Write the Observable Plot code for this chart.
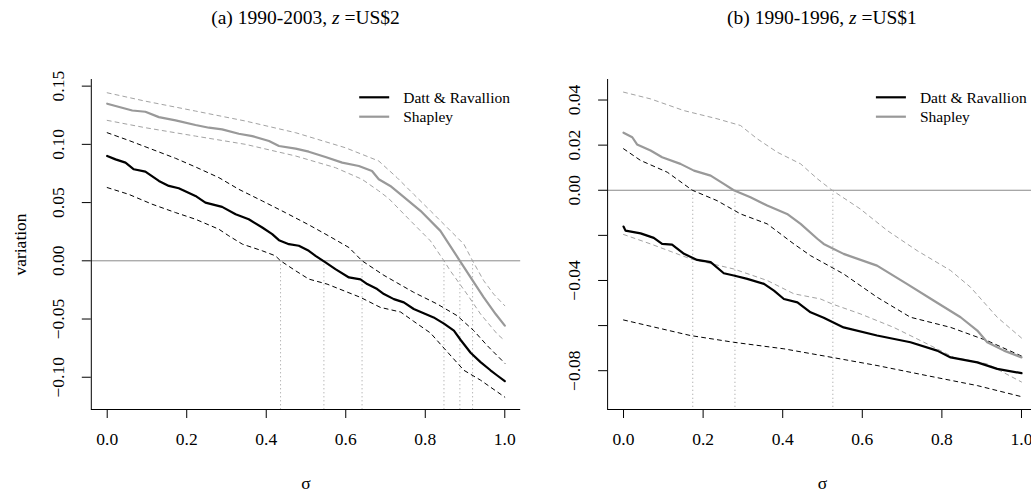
<!DOCTYPE html>
<html><head><meta charset="utf-8">
<script src="https://cdn.jsdelivr.net/npm/d3@7"></script>
<script src="https://cdn.jsdelivr.net/npm/@observablehq/plot@0.6"></script>
<style>
html,body{margin:0;padding:0;background:#fff;overflow:hidden;}
#wrap{position:relative;width:1031px;height:494px;overflow:hidden;font-family:'Liberation Serif',serif;color:#000;}
.panel{position:absolute;top:0;}
.title{position:absolute;top:6px;font-size:19.5px;white-space:nowrap;transform:translateX(-50%);line-height:24px;}
</style></head>
<body><div id="wrap">
<div class="title" style="left:305.5px">(a) 1990-2003, <i>z</i> =US$2</div>
<div class="title" style="left:822px">(b) 1990-1996, <i>z</i> =US$1</div>
</div>
<script>
// ---------- data: [sigma, variation] ----------
const xTicks = [0, 0.2, 0.4, 0.6, 0.8, 1.0];
const seriesNames = ["Datt & Ravallion", "Shapley"];

// Panel (a) 1990-2003, z = US$2
const aTicks = [0.15, 0.10, 0.05, 0.00, -0.05, -0.10];
const aLabels = [0.15, 0.10, 0.05, 0.00, -0.05, -0.10];
const aDR = [[0,0.090],[0.021,0.0871],[0.046,0.0843],[0.067,0.0786],[0.096,0.0766],[0.130,0.0686],[0.155,0.0643],[0.180,0.0623],[0.222,0.0557],[0.247,0.050],[0.289,0.0463],[0.323,0.040],[0.356,0.0357],[0.390,0.0286],[0.415,0.0229],[0.432,0.0177],[0.457,0.0143],[0.482,0.0129],[0.507,0.0086],[0.524,0.0043],[0.549,-0.0014],[0.574,-0.0071],[0.608,-0.0143],[0.637,-0.0160],[0.654,-0.0200],[0.679,-0.0243],[0.696,-0.0286],[0.721,-0.0329],[0.746,-0.0357],[0.771,-0.0414],[0.796,-0.0451],[0.821,-0.0486],[0.847,-0.0540],[0.872,-0.0600],[0.889,-0.0680],[0.914,-0.0790],[0.939,-0.0870],[0.964,-0.0940],[0.981,-0.0985],[1.0,-0.1034]];
const aDRhi = [[0,0.110],[0.054,0.1034],[0.113,0.0957],[0.172,0.088],[0.222,0.0806],[0.281,0.0714],[0.331,0.0614],[0.390,0.0514],[0.448,0.0414],[0.507,0.0309],[0.557,0.0214],[0.608,0.0114],[0.641,0],[0.696,-0.0125],[0.771,-0.0271],[0.830,-0.0371],[0.880,-0.0471],[0.922,-0.060],[0.956,-0.0729],[1.0,-0.088]];
const aDRlo = [[0,0.0629],[0.054,0.0571],[0.113,0.0486],[0.172,0.0414],[0.222,0.0357],[0.281,0.0271],[0.306,0.0214],[0.340,0.0143],[0.390,0.0086],[0.423,0.0043],[0.436,0],[0.474,-0.0086],[0.507,-0.0157],[0.553,-0.0200],[0.637,-0.0314],[0.687,-0.040],[0.738,-0.0440],[0.771,-0.0520],[0.813,-0.0620],[0.847,-0.0750],[0.897,-0.0940],[0.939,-0.1025],[1.0,-0.1171]];
const aSH = [[0,0.1349],[0.063,0.1291],[0.096,0.128],[0.130,0.1234],[0.172,0.1206],[0.222,0.1166],[0.256,0.1143],[0.289,0.1129],[0.331,0.1091],[0.365,0.1071],[0.407,0.1029],[0.432,0.0986],[0.474,0.0963],[0.507,0.0937],[0.549,0.0891],[0.591,0.0843],[0.633,0.0814],[0.666,0.0771],[0.683,0.070],[0.712,0.0643],[0.738,0.0571],[0.788,0.0429],[0.838,0.0257],[0.887,0],[0.914,-0.0143],[0.947,-0.0314],[0.977,-0.0457],[1.0,-0.0557]];
const aSHhi = [[0,0.1443],[0.096,0.1371],[0.222,0.1286],[0.348,0.120],[0.474,0.110],[0.599,0.0971],[0.683,0.0857],[0.729,0.0714],[0.771,0.0571],[0.813,0.0429],[0.855,0.0286],[0.897,0.0143],[0.919,0],[0.947,-0.0171],[0.972,-0.0286],[1.0,-0.0386]];
const aSHlo = [[0,0.1206],[0.096,0.1143],[0.222,0.1071],[0.348,0.100],[0.474,0.090],[0.574,0.080],[0.641,0.070],[0.683,0.060],[0.708,0.0535],[0.763,0.0343],[0.813,0.0171],[0.847,0],[0.863,-0.0086],[0.905,-0.0286],[0.939,-0.0457],[0.981,-0.0629],[1.0,-0.0686]];
const aCross = [0.436, 0.545, 0.641, 0.847, 0.887, 0.919];

// Panel (b) 1990-1996, z = US$1
const bTicks = [0.04, 0.02, 0.00, -0.02, -0.04, -0.06, -0.08];
const bLabels = [0.04, 0.02, 0.00, -0.04, -0.08];
const bDR = [[0,-0.0161],[0.005,-0.0179],[0.043,-0.0191],[0.076,-0.0211],[0.097,-0.0238],[0.122,-0.0241],[0.152,-0.0282],[0.185,-0.0309],[0.219,-0.0319],[0.252,-0.0368],[0.277,-0.0378],[0.311,-0.0393],[0.353,-0.0415],[0.378,-0.0445],[0.403,-0.0482],[0.437,-0.0497],[0.470,-0.0541],[0.503,-0.0565],[0.553,-0.0608],[0.637,-0.0644],[0.721,-0.0674],[0.788,-0.0711],[0.822,-0.0741],[0.889,-0.0763],[0.939,-0.0792],[1.0,-0.0811]];
const bDRhi = [[0,0.0184],[0.043,0.0132],[0.110,0.0080],[0.173,0],[0.235,-0.0046],[0.294,-0.0105],[0.361,-0.0149],[0.428,-0.0238],[0.470,-0.029],[0.553,-0.0371],[0.637,-0.0474],[0.721,-0.0563],[0.822,-0.0608],[0.914,-0.0667],[1.0,-0.0735]];
const bDRlo = [[0,-0.0575],[0.168,-0.0644],[0.277,-0.0674],[0.403,-0.0703],[0.524,-0.0741],[0.637,-0.0777],[0.763,-0.0822],[0.889,-0.0866],[1.0,-0.0915]];
const bSH = [[0,0.0255],[0.022,0.0235],[0.034,0.0203],[0.068,0.0176],[0.097,0.0146],[0.143,0.0117],[0.177,0.0087],[0.219,0.0065],[0.252,0.0028],[0.277,0],[0.319,-0.0031],[0.361,-0.0068],[0.411,-0.0105],[0.445,-0.0149],[0.487,-0.0215],[0.503,-0.0238],[0.553,-0.0282],[0.637,-0.0334],[0.712,-0.0415],[0.779,-0.0489],[0.847,-0.0563],[0.889,-0.0622],[0.914,-0.0674],[0.956,-0.0711],[1.0,-0.0741]];
const bSHhi = [[0,0.0435],[0.068,0.0405],[0.152,0.0353],[0.235,0.0317],[0.294,0.0287],[0.336,0.0228],[0.386,0.0169],[0.445,0.0117],[0.487,0.0051],[0.524,0],[0.595,-0.0083],[0.663,-0.0179],[0.738,-0.0268],[0.822,-0.0356],[0.872,-0.0430],[0.939,-0.0563],[1.0,-0.0655]];
const bSHlo = [[0,-0.0196],[0.068,-0.0238],[0.168,-0.0304],[0.277,-0.0349],[0.361,-0.040],[0.428,-0.0459],[0.495,-0.0482],[0.524,-0.0504],[0.595,-0.0548],[0.679,-0.0608],[0.763,-0.0681],[0.830,-0.0741],[0.914,-0.077],[1.0,-0.0850]];
const bCross = [0.174, 0.280, 0.526];

// ---------- drawing ----------
const FONT = "'Liberation Serif', serif";
const GREY = "#999999";
const GREY_DASH = "#a3a3a3";
const xDomain = [-0.04, 1.04];
const fmt1 = d3.format(".1f"), fmt2 = d3.format(".2f");

function makePanel(cfg) {
  const {left, width, mL, mR, yDomain, yTicks, yLabels, dr, drHi, drLo, sh, shHi, shLo, cross, ylab} = cfg;
  const X = d => d[0], Y = d => d[1];
  const txt = {fontSize: 17.5, fill: "black", fontFamily: FONT, textAnchor: "middle"};
  const marks = [
    Plot.ruleY([0], {stroke: "#8a8a8a", strokeWidth: 1}),
    Plot.ruleX(cross, {y1: 0, y2: yDomain[0], stroke: GREY, strokeDasharray: "1,3"}),
    Plot.line(shHi, {x: X, y: Y, stroke: GREY_DASH, strokeWidth: 1, strokeDasharray: "4,4"}),
    Plot.line(shLo, {x: X, y: Y, stroke: GREY_DASH, strokeWidth: 1, strokeDasharray: "4,4"}),
    Plot.line(drHi, {x: X, y: Y, stroke: "black", strokeWidth: 1, strokeDasharray: "4,4"}),
    Plot.line(drLo, {x: X, y: Y, stroke: "black", strokeWidth: 1, strokeDasharray: "4,4"}),
    Plot.line(sh, {x: X, y: Y, stroke: GREY, strokeWidth: 2.2}),
    Plot.line(dr, {x: X, y: Y, stroke: "black", strokeWidth: 2.2}),
    Plot.ruleX([xDomain[0]], {stroke: "black", strokeWidth: 1}),
    Plot.ruleY([yDomain[0]], {stroke: "black", strokeWidth: 1}),
    Plot.axisY({ticks: yTicks, tickSize: 9, tickFormat: () => "", label: null, stroke: "black"}),
    Plot.axisX({ticks: xTicks, tickSize: 9, tickFormat: () => "", label: null, stroke: "black"}),
    Plot.text(yLabels, {...txt, y: d => d, text: d => fmt2(d), frameAnchor: "left", dx: -33, rotate: -90}),
    Plot.text(xTicks, {...txt, x: d => d, text: d => fmt1(d), frameAnchor: "bottom", dy: 35}),
    Plot.text(["σ"], {...txt, text: d => d, frameAnchor: "bottom", dy: 79})
  ];
  if (ylab) marks.push(Plot.text([ylab], {...txt, text: d => d, frameAnchor: "left", dx: -71, rotate: -90}));
  const svg = Plot.plot({
    width, height: 494,
    marginLeft: mL, marginRight: mR, marginTop: 79, marginBottom: 85,
    x: {domain: xDomain},
    y: {domain: yDomain},
    style: {fontFamily: FONT, fontSize: "17px", background: "transparent", maxWidth: "none", overflow: "visible"},
    marks
  });
  // legend (top right, no box)
  const fr = width - mR;
  const g = d3.select(svg).append("g").attr("font-family", FONT).attr("font-size", 15.5).attr("text-anchor", "start");
  const colors = ["black", GREY];
  seriesNames.forEach((name, i) => {
    const yy = 97.3 + i * 19.4;
    g.append("line").attr("x1", fr - 161).attr("x2", fr - 131).attr("y1", yy).attr("y2", yy)
      .attr("stroke", colors[i]).attr("stroke-width", 2.2);
    g.append("text").attr("x", fr - 117).attr("y", yy).attr("dy", "0.35em")
      .attr("text-anchor", "start").attr("fill", "black").text(name);
  });
  const div = document.createElement("div");
  div.className = "panel";
  div.style.left = left + "px";
  div.appendChild(svg);
  document.getElementById("wrap").appendChild(div);
}

makePanel({left: 0, width: 540, mL: 90.8, mR: 19.8, yDomain: [-0.1277, 0.1557], yTicks: aTicks, yLabels: aLabels,
  dr: aDR, drHi: aDRhi, drLo: aDRlo, sh: aSH, shHi: aSHhi, shLo: aSHlo, cross: aCross, ylab: "variation"});
makePanel({left: 540, width: 497, mL: 67.1, mR: 0.1, yDomain: [-0.0972, 0.0491], yTicks: bTicks, yLabels: bLabels,
  dr: bDR, drHi: bDRhi, drLo: bDRlo, sh: bSH, shHi: bSHhi, shLo: bSHlo, cross: bCross, ylab: null});
</script>
</body></html>
